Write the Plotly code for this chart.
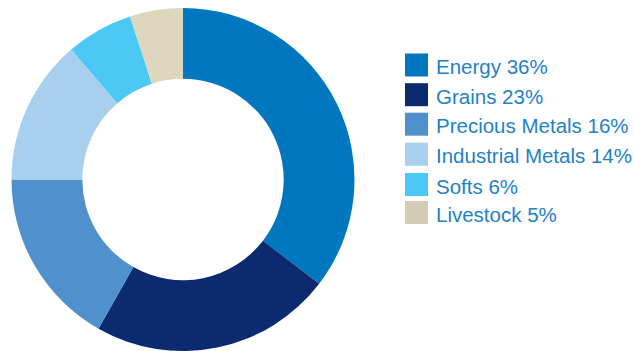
import plotly.graph_objects as go

W, H = 634, 351

categories = ["Energy", "Grains", "Precious Metals", "Industrial Metals", "Softs", "Livestock"]
# slice sizes as drawn in the picture
values = [35.4, 22.8, 16.8, 13.7, 6.3, 5.0]
# percentages as printed in the legend
label_pcts = [36, 23, 16, 14, 6, 5]
colors = ["#0077bf", "#0b2a6f", "#5091cd", "#a8cfee", "#4bc8f5", "#ddd7bd"]
legend_colors = ["#0077bf", "#0b2a6f", "#5091cd", "#a8cfee", "#4bc8f5", "#d3cbb6"]
legend_labels = [f"{c} {p}%" for c, p in zip(categories, label_pcts)]

fig = go.Figure(go.Pie(
    labels=categories,
    values=values,
    marker=dict(colors=colors, line=dict(width=0)),
    hole=0.587,
    sort=False,
    direction="clockwise",
    rotation=0,
    textinfo="none",
    showlegend=False,
    domain=dict(x=[11 / W, 355 / W], y=[0, 343 / H]),
))

# custom legend (squares + text), positioned in pixels
centers = [65, 94.7, 124.2, 154.2, 184.5, 212.5]
sq = 23
shapes = []
annotations = []
for lab, col, cy in zip(legend_labels, legend_colors, centers):
    shapes.append(dict(type="rect", xref="paper", yref="paper",
                       x0=405 / W, x1=(405 + sq) / W,
                       y0=(H - cy - sq / 2) / H, y1=(H - cy + sq / 2) / H,
                       fillcolor=col, line=dict(width=0)))
    annotations.append(dict(text=lab, xref="paper", yref="paper",
                            x=434 / W, y=(H - cy - 1.5) / H,
                            xanchor="left", yanchor="middle", showarrow=False,
                            font=dict(family="Liberation Sans, Arial", size=20.5, color="#2381c6")))

fig.update_layout(
    width=W, height=H,
    margin=dict(l=0, r=0, t=0, b=0),
    paper_bgcolor="white", plot_bgcolor="white",
    shapes=shapes, annotations=annotations,
)

fig.write_html("out.html", config={"displayModeBar": False},
               post_script="document.body.style.margin='0';document.body.style.overflow='hidden';")
